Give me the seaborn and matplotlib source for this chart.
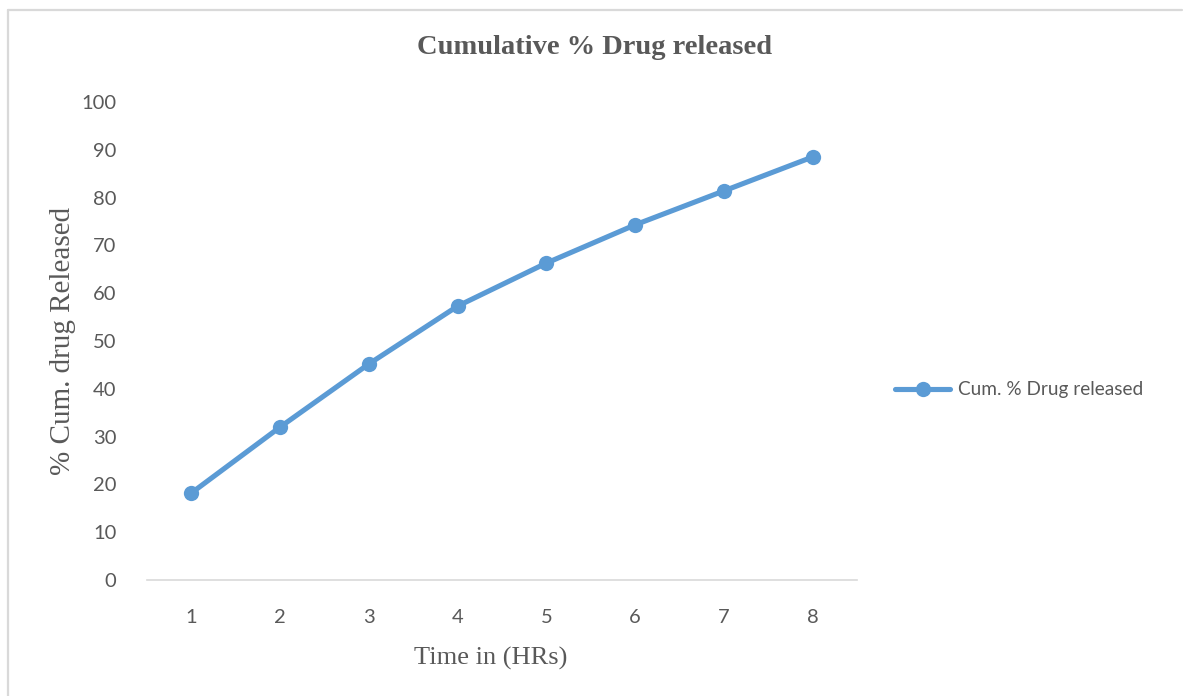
import matplotlib
matplotlib.use("Agg")
import matplotlib.pyplot as plt
import seaborn as sns
import pandas as pd
from matplotlib.lines import Line2D

hours = [1, 2, 3, 4, 5, 6, 7, 8]
cum_release = [18.2, 32.0, 45.2, 57.3, 66.3, 74.3, 81.4, 88.5]
y_ticks = [0, 10, 20, 30, 40, 50, 60, 70, 80, 90, 100]
series_name = "Cum. % Drug released"

df = pd.DataFrame({"Time": hours, "Release": cum_release, "Series": series_name})

sns.set_theme(style="white")
plt.rcParams["font.family"] = ["Lato", "DejaVu Sans"]

W, H = 1183, 696
fig = plt.figure(figsize=(W / 100, H / 100), dpi=100)
ax = fig.add_axes([147 / W, 1 - 580 / H, 710 / W, (580 - 102) / H])

blue = "#5b9bd5"
grey = "#595959"

sns.lineplot(data=df, x="Time", y="Release", hue="Series", palette=[blue],
             marker="o", markersize=11, linewidth=3.7, markeredgewidth=0,
             ax=ax, legend=True)

ax.set_xlim(0.5, 8.5)
ax.set_ylim(0, 100)
ax.set_xticks(hours)
ax.set_yticks(y_ticks)
ax.tick_params(axis="both", length=0, labelsize=14.5, labelcolor=grey)
ax.tick_params(axis="x", pad=21)
ax.tick_params(axis="y", pad=22)

for s in ["top", "right", "left"]:
    ax.spines[s].set_visible(False)
ax.spines["bottom"].set_color("#d9d9d9")
ax.spines["bottom"].set_linewidth(1.2)

ax.set_xlabel("Time in (HRs)", family=["Liberation Serif"], fontsize=19, color=grey, labelpad=15)
ax.xaxis.label.set_x(0.4845)
ax.set_ylabel("% Cum. drug Released", family=["Liberation Serif"], fontsize=21, color=grey, labelpad=4)

fig.text(595 / W, 1 - 48 / H, "Cumulative % Drug released", ha="center", va="center",
         family=["Liberation Serif"], fontsize=20.5, fontweight="bold", color=grey)

leg = ax.legend(loc="center left", bbox_to_anchor=(895 / W, 1 - 390 / H),
                bbox_transform=fig.transFigure, frameon=False, fontsize=13.7,
                handlelength=2.9, handletextpad=0.4, borderaxespad=0, borderpad=0)
for t in leg.get_texts():
    t.set_color(grey)
for h in leg.get_lines():
    h.set_linewidth(3.7)
    h.set_markersize(11)

border = "#d9d9d9"
fig.add_artist(Line2D([8 / W, 1182 / W], [1 - 10 / H, 1 - 10 / H], transform=fig.transFigure,
                      color=border, linewidth=1.6))
fig.add_artist(Line2D([8 / W, 8 / W], [1 - 10 / H, 0], transform=fig.transFigure,
                      color=border, linewidth=1.6))

fig.savefig("out.png", dpi=100, facecolor="white")
